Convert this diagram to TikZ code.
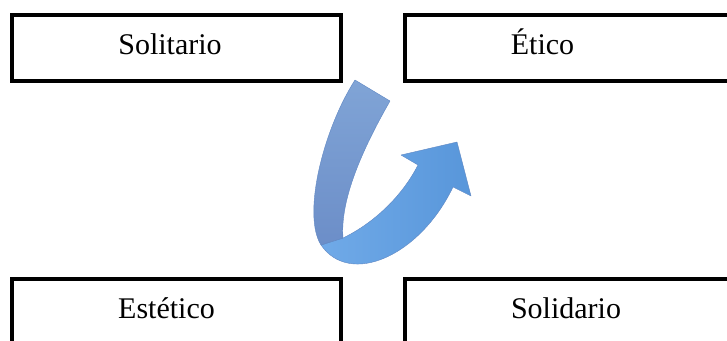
\documentclass[tikz,border=0pt]{standalone}
\usepackage{fontspec}
\setmainfont{Liberation Serif}
\definecolor{tailA}{RGB}{128,164,214}
\definecolor{tailB}{RGB}{108,142,200}
\definecolor{lowA}{RGB}{112,170,232}
\definecolor{lowB}{RGB}{88,150,218}
\definecolor{edgeblue}{RGB}{95,135,195}
\begin{document}
\begin{tikzpicture}[x=1pt,y=-1pt,
  boxline/.style={draw=black,line width=3.5pt},
  lbl/.style={font=\fontsize{30}{35}\selectfont,anchor=base,inner sep=0pt},
  ribbon/.style={draw=edgeblue,line width=0.4pt,line join=round}]
\useasboundingbox (0,0) rectangle (727,340);
\clip (0,0) rectangle (727,340);
% boxes
\draw[boxline] (12,15) rectangle (341,81);
\draw[boxline] (405,15) rectangle (745,81);
\draw[boxline] (12,279) rectangle (341,360);
\draw[boxline] (405,279) rectangle (745,360);
% labels
\node[lbl] (solitario) at (170,54) {Solitario};
\node[lbl] (etico) at (542.5,54) {Ético};
\node[lbl] (estetico) at (166.5,318) {Estético};
\node[lbl] (solidario) at (566,318) {Solidario};
% arrow key points
\coordinate (p1) at (355,80);
\coordinate (p2) at (390,101);
\coordinate (p3) at (343,238);
\coordinate (p4) at (321,245);
\coordinate (n1) at (418,165);
\coordinate (h1) at (401,155);
\coordinate (tip) at (457,142);
\coordinate (h2) at (471,196);
\coordinate (n2) at (453,187);
% lower ribbon with head
\path[ribbon,left color=lowA,right color=lowB]
  (p4) .. controls (350,287) and (420,256) .. (n2)
  -- (h2) -- (tip) -- (h1) -- (n1)
  .. controls (400,200) and (370,225) .. (p3) -- cycle;
% tail part
\path[ribbon,top color=tailA,bottom color=tailB]
  (p1) -- (p2)
  .. controls (362,150) and (340,200) .. (p3)
  -- (p4)
  .. controls (302,215) and (323,130) .. (p1) -- cycle;
\end{tikzpicture}
\end{document}
